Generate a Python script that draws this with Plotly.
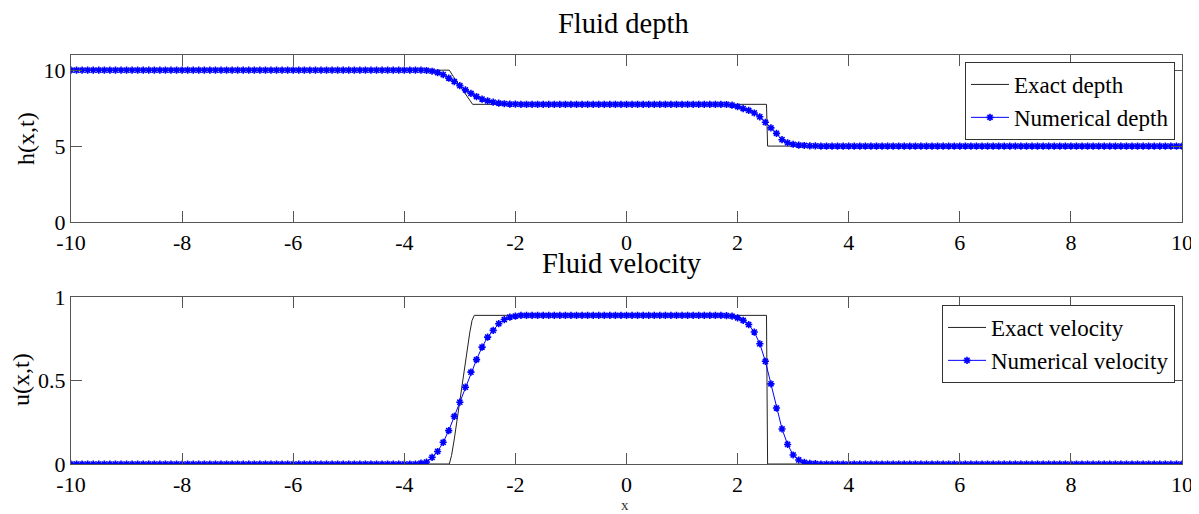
import numpy as np
import plotly.graph_objects as go

# ---------------- data ----------------
X_NUM = np.round(np.linspace(-10, 10, 201), 2)          # grid x = -10 .. 10, step 0.1

H_LEFT = 10.0
H_MID = 7.75
H_RIGHT = 5.0
H_RARE = [10.0, 9.98, 9.93, 9.84, 9.70, 9.48, 9.25, 8.98, 8.70, 8.47,
          8.26, 8.10, 7.98, 7.89, 7.83, 7.79, 7.77, 7.76]            # x = -3.7 .. -2.0
H_SHOCK = [7.74, 7.70, 7.60, 7.47, 7.35, 7.18, 6.93, 6.57, 6.20, 5.84,
           5.42, 5.22, 5.12, 5.07, 5.04, 5.02, 5.01]                 # x = 1.8 .. 3.4
H_NUM = [H_LEFT] * 63 + H_RARE + [H_MID] * 37 + H_SHOCK + [H_RIGHT] * 66

U_LEFT = 0.0
U_MID = 0.89
U_RIGHT = 0.0
U_RARE = [0.005, 0.012, 0.04, 0.075, 0.13, 0.2, 0.285, 0.37, 0.46, 0.55,
          0.625, 0.70, 0.76, 0.80, 0.84, 0.865, 0.88, 0.886]         # x = -3.7 .. -2.0
U_SHOCK = [0.888, 0.885, 0.875, 0.86, 0.835, 0.79, 0.72, 0.615, 0.48, 0.335,
           0.21, 0.117, 0.054, 0.024, 0.01, 0.004, 0.002]            # x = 1.8 .. 3.4
U_NUM = [U_LEFT] * 63 + U_RARE + [U_MID] * 37 + U_SHOCK + [U_RIGHT] * 66

X_EXACT_H = [-10, -3.19, -3.12, -3.0, -2.88, -2.77, 2.52, 2.54, 10]
H_EXACT = [10, 10, 9.60, 8.95, 8.32, 7.75, 7.75, 5, 5]

X_EXACT_U = [-10, -3.19, -3.15, -3.10, -2.82, -2.78, -2.74, 2.52, 2.54, 10]
U_EXACT = [0, 0, 0.05, 0.15, 0.79, 0.86, 0.89, 0.89, 0, 0]

X_TICKS = [-10, -8, -6, -4, -2, 0, 2, 4, 6, 8, 10]
X_TICK_TEXT = ["-10", "-8", "-6", "-4", "-2", "0", "2", "4", "6", "8", "10"]
H_TICKS = [0, 5, 10]
H_TICK_TEXT = ["0", "5", "10"]
U_TICKS = [0, 0.5, 1]
U_TICK_TEXT = ["0", "0.5", "1"]

# ---------------- figure ----------------
FONT = "Liberation Serif"
OFF = 8                      # page body margin
W, H = 1199 - OFF, 514 - OFF

def px_x(p):
    return (p - OFF) / W

def px_y(p):
    return 1 - (p - OFF) / H

fig = go.Figure()

num_style = dict(mode="lines+markers",
                 line=dict(color="#0000ff", width=1),
                 marker=dict(symbol="asterisk-open", size=6, color="#0000ff",
                             line=dict(color="#0000ff", width=1.6)))
ex_style = dict(mode="lines", line=dict(color="#222222", width=1))

fig.add_trace(go.Scatter(x=X_EXACT_H, y=H_EXACT, name="Exact depth",
                         xaxis="x", yaxis="y", legend="legend", **ex_style))
fig.add_trace(go.Scatter(x=X_NUM, y=H_NUM, name="Numerical depth",
                         xaxis="x", yaxis="y", legend="legend", **num_style))
fig.add_trace(go.Scatter(x=X_EXACT_U, y=U_EXACT, name="Exact velocity",
                         xaxis="x2", yaxis="y2", legend="legend2", **ex_style))
fig.add_trace(go.Scatter(x=X_NUM, y=U_NUM, name="Numerical velocity",
                         xaxis="x2", yaxis="y2", legend="legend2", **num_style))

axis_common = dict(showline=True, linecolor="#555555", linewidth=1, mirror="ticks",
                   ticks="inside", ticklen=11, tickcolor="#555555", tickwidth=1,
                   showgrid=False, zeroline=False, automargin=False,
                   tickfont=dict(family=FONT, size=22, color="black"))

xdom = [px_x(71), px_x(1182)]
fig.update_layout(
    width=W, height=H,
    margin=dict(l=0, r=0, t=0, b=0),
    paper_bgcolor="white", plot_bgcolor="white",
    xaxis=dict(domain=xdom, range=[-10, 10], tickvals=X_TICKS, ticktext=X_TICK_TEXT,
               anchor="y", ticklabelstandoff=1, **axis_common),
    yaxis=dict(domain=[px_y(222), px_y(55)], range=[0, 11], tickvals=H_TICKS,
               ticktext=H_TICK_TEXT, anchor="x", ticklabelstandoff=0, **axis_common),
    xaxis2=dict(domain=xdom, range=[-10, 10], tickvals=X_TICKS, ticktext=X_TICK_TEXT,
                anchor="y2", ticklabelstandoff=1, **axis_common),
    yaxis2=dict(domain=[px_y(464), px_y(297)], range=[0, 1], tickvals=U_TICKS,
                ticktext=U_TICK_TEXT, anchor="x2", ticklabelstandoff=0, **axis_common),
    legend=dict(x=px_x(1175), y=px_y(62), xanchor="right", yanchor="top",
                bgcolor="white", bordercolor="#333333", borderwidth=1,
                font=dict(family=FONT, size=23, color="black"),
                itemwidth=38, tracegroupgap=0),
    legend2=dict(x=px_x(1175), y=px_y(305), xanchor="right", yanchor="top",
                 bgcolor="white", bordercolor="#333333", borderwidth=1,
                 font=dict(family=FONT, size=23, color="black"),
                 itemwidth=38, tracegroupgap=0),
    showlegend=True,
    annotations=[
        dict(text="Fluid depth", x=px_x(623), y=px_y(23), xref="paper", yref="paper",
             xanchor="center", yanchor="middle", showarrow=False,
             font=dict(family=FONT, size=28.5, color="black")),
        dict(text="Fluid velocity", x=px_x(622), y=px_y(264), xref="paper", yref="paper",
             xanchor="center", yanchor="middle", showarrow=False,
             font=dict(family=FONT, size=28.5, color="black")),
        dict(text="h(x,t)", x=px_x(26), y=px_y(139), xref="paper", yref="paper",
             xanchor="center", yanchor="middle", showarrow=False, textangle=-90,
             font=dict(family=FONT, size=24, color="black")),
        dict(text="u(x,t)", x=px_x(21), y=px_y(380), xref="paper", yref="paper",
             xanchor="center", yanchor="middle", showarrow=False, textangle=-90,
             font=dict(family=FONT, size=24, color="black")),
        dict(text="x", x=px_x(625), y=px_y(505), xref="paper", yref="paper",
             xanchor="center", yanchor="middle", showarrow=False,
             font=dict(family=FONT, size=15, color="#333333")),
    ],
)

fig.write_html("out.html")
